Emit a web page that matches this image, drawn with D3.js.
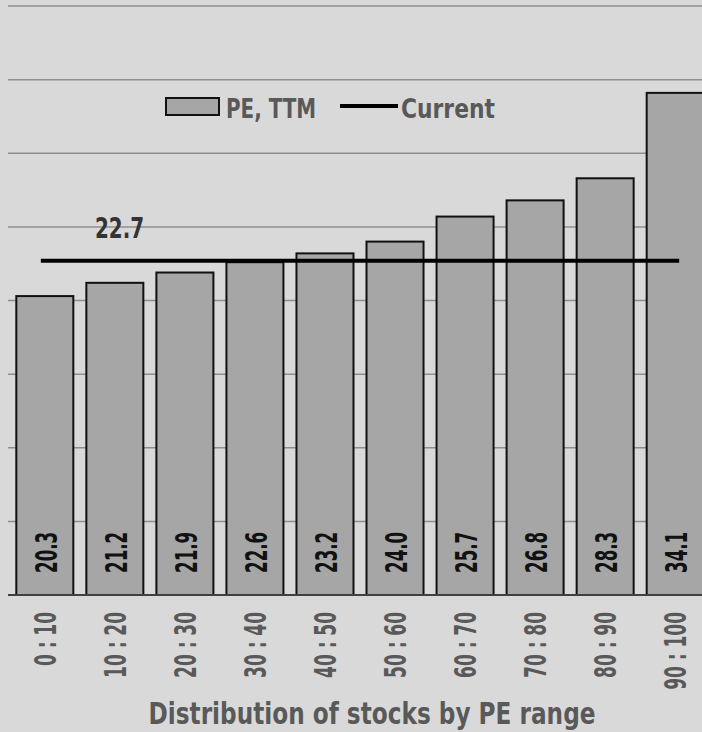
<!DOCTYPE html>
<html>
<head>
<meta charset="utf-8">
<script src="https://cdn.jsdelivr.net/npm/d3@7"></script>
<style>
  html, body { margin: 0; padding: 0; background: #d9d9d9; }
  svg { display: block; }
  text { font-family: "DejaVu Sans Condensed", "Liberation Sans Narrow", sans-serif; font-weight: bold; }
</style>
</head>
<body>
<svg id="chart" width="702" height="732"></svg>
<script>
const categories = ["0 : 10", "10 : 20", "20 : 30", "30 : 40", "40 : 50", "50 : 60", "60 : 70", "70 : 80", "80 : 90", "90 : 100"];
const peValues = [20.3, 21.2, 21.9, 22.6, 23.2, 24.0, 25.7, 26.8, 28.3, 34.1];
const currentValue = 22.7;
const yTicks = [0, 5, 10, 15, 20, 25, 30, 35, 40];
const seriesNames = ["PE, TTM", "Current"];
const axisTitle = "Distribution of stocks by PE range";

const svg = d3.select("#chart");
const W = 702, H = 732;
svg.append("rect").attr("width", W).attr("height", H).attr("fill", "#d9d9d9");

const y = d3.scaleLinear().domain([0, 40]).range([595, 6]);
const x = d3.scaleBand().domain(categories).range([10, 710]).paddingInner(0.186).paddingOuter(0.09);

// gridlines
svg.append("g").selectAll("line").data(yTicks.filter(d => d > 0)).join("line")
  .attr("x1", 8).attr("x2", W)
  .attr("y1", d => y(d)).attr("y2", d => y(d))
  .attr("stroke", "#8e8e8e").attr("stroke-width", 1.5);

// bars
svg.append("g").selectAll("rect").data(peValues).join("rect")
  .attr("x", (d, i) => x(categories[i]))
  .attr("y", d => y(d))
  .attr("width", x.bandwidth())
  .attr("height", d => y(0) - y(d))
  .attr("fill", "#a6a6a6")
  .attr("stroke", "#111")
  .attr("stroke-width", 2);

// baseline axis
svg.append("line").attr("x1", 8).attr("x2", W).attr("y1", y(0)).attr("y2", y(0))
  .attr("stroke", "#404040").attr("stroke-width", 2);

// value labels
svg.append("g").selectAll("text").data(peValues).join("text")
  .attr("transform", (d, i) => `translate(${x(categories[i]) + x.bandwidth() / 2 + 12},${y(0) - 22}) rotate(-90) scale(0.62,1)`)
  .attr("text-anchor", "start")
  .attr("font-size", 30)
  .attr("fill", "#111")
  .text(d => d.toFixed(1));

// current line
const xFirst = x(categories[0]) + x.bandwidth() / 2 - 4;
const xLast = x(categories[categories.length - 1]) + x.bandwidth() / 2 + 4;
svg.append("line").attr("x1", xFirst).attr("x2", xLast)
  .attr("y1", y(currentValue)).attr("y2", y(currentValue))
  .attr("stroke", "#000").attr("stroke-width", 4);

svg.append("text")
  .attr("font-size", 28).attr("fill", "#333")
  .attr("transform", "translate(95,238) scale(0.79,1)")
  .text(currentValue.toFixed(1));

// x tick labels
svg.append("g").selectAll("text").data(categories).join("text")
  .attr("transform", d => `translate(${x(d) + x.bandwidth() / 2 + 11},612) rotate(-90) scale(0.63,1)`)
  .attr("text-anchor", "end")
  .attr("font-size", 30)
  .attr("fill", "#595959")
  .text(d => d);

// axis title
svg.append("text")
  .attr("transform", "translate(372,724) scale(0.86,1)")
  .attr("text-anchor", "middle")
  .attr("font-size", 30).attr("fill", "#595959")
  .text(axisTitle);

// legend
const lg = svg.append("g");
lg.append("rect").attr("x", 166).attr("y", 98).attr("width", 53).attr("height", 17)
  .attr("fill", "#a6a6a6").attr("stroke", "#111").attr("stroke-width", 2);
lg.append("text").attr("transform", "translate(226,118) scale(0.82,1)")
  .attr("font-size", 27).attr("fill", "#595959").text(seriesNames[0]);
lg.append("line").attr("x1", 340).attr("x2", 398).attr("y1", 106).attr("y2", 106)
  .attr("stroke", "#000").attr("stroke-width", 4);
lg.append("text").attr("transform", "translate(401,118) scale(0.9,1)")
  .attr("font-size", 27).attr("fill", "#595959").text(seriesNames[1]);
</script>
</body>
</html>
